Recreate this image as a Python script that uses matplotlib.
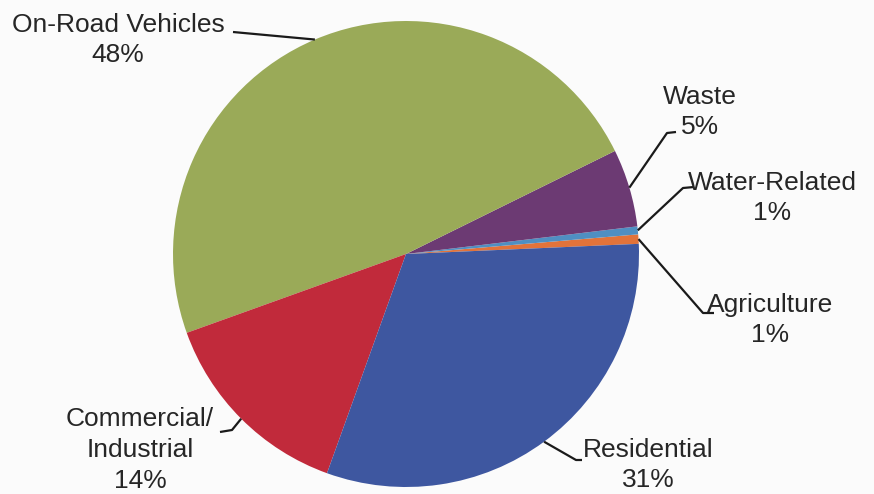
import matplotlib.pyplot as plt
import numpy as np

# slice data (counter-clockwise order, starting just above 3 o'clock)
categories = ['Agriculture', 'Water-Related', 'Waste', 'On-Road Vehicles',
              'Commercial/\nIndustrial', 'Residential']
values = [0.65, 0.55, 5.4, 48.2, 14.0, 31.2]
colors = ['#e2733a', '#4f8fc2', '#6c3a73', '#9aaa58', '#c12a3b', '#3e57a0']

W, H = 874, 494
fig = plt.figure(figsize=(W / 100, H / 100), dpi=100)
fig.patch.set_facecolor('#fbfbfb')
ax = fig.add_axes([0, 0, 1, 1])

cx, cy, r = 406, H - 254, 233
wedges, _ = ax.pie(values, colors=colors, startangle=2.5, counterclock=True,
                   center=(cx, cy), radius=r, frame=True,
                   wedgeprops=dict(linewidth=0))
ax.set_xlim(0, W)
ax.set_ylim(0, H)
ax.set_aspect('equal')
ax.axis('off')

# label layout (pixel coords, y down): text centre, elbow, line end at text
layout = {
    'Agriculture':      dict(txt=(770, 320), elbow=(703, 313), end=(714, 313)),
    'Water-Related':    dict(txt=(772, 198), elbow=(683, 188), end=(694, 187)),
    'Waste':            dict(txt=(700, 112), elbow=(667, 133), end=(676, 132)),
    'On-Road Vehicles': dict(txt=(118, 40), elbow=(233, 32), end=(233, 32)),
    'Commercial/\nIndustrial': dict(txt=(140, 450), elbow=(232, 430), end=(220, 432)),
    'Residential':      dict(txt=(648, 465), elbow=(576, 460), end=(582, 460)),
}

for w, cat, v in zip(wedges, categories, values):
    mid = np.deg2rad((w.theta1 + w.theta2) / 2)
    ex, ey = cx + r * np.cos(mid), cy + r * np.sin(mid)
    lay = layout[cat]
    bx, by = lay['elbow']
    tx, ty = lay['end']
    ax.plot([ex, bx, tx], [ey, H - by, H - ty], color='#1a1a1a', lw=1.6,
            solid_capstyle='butt', zorder=3)
    lx, ly = lay['txt']
    ax.text(lx, H - ly, f'{cat}\n{v:.0f}%', ha='center', va='center',
            fontsize=19, family='Liberation Sans', color='#262626',
            linespacing=1.35)

fig.savefig('out.png', dpi=100, facecolor=fig.get_facecolor())
